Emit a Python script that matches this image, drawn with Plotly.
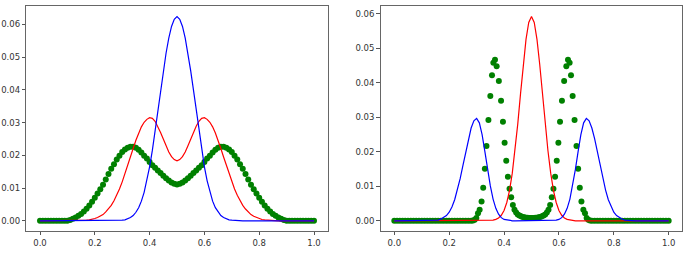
import plotly.graph_objects as go

# shared x grid for line series (0.00 .. 1.00 step 0.01)
x_grid = [i / 100 for i in range(101)]

# ---- left panel ----
blue_left = [0]*0 + [
    0, 0, 0, 0, 0, 0, 0, 0, 0, 0, 0, 0, 0, 0, 0, 0, 0, 0, 0, 0, 0, 0, 0, 0, 0, 0, 0, 0, 0,
    0.0001, 0.0002, 0.0003, 0.0006, 0.0010, 0.0016, 0.0026, 0.0040, 0.0060, 0.0087, 0.0122,
    0.0165, 0.0215, 0.0274, 0.0338, 0.0400, 0.0458, 0.0512, 0.0558, 0.0594, 0.0616,
    0.0624,
    0.0616, 0.0594, 0.0558, 0.0512, 0.0458, 0.0400, 0.0338, 0.0274, 0.0215, 0.0165,
    0.0122, 0.0087, 0.0060, 0.0040, 0.0026, 0.0016, 0.0010, 0.0006, 0.0003, 0.0002, 0.0001,
    0, 0, 0, 0, 0, 0, 0, 0, 0, 0, 0, 0, 0, 0, 0, 0, 0, 0, 0, 0, 0, 0, 0, 0, 0, 0, 0, 0, 0,
]

red_left = [
    0, 0, 0, 0, 0, 0, 0, 0, 0, 0, 0, 0, 0, 0, 0,
    0.0001, 0.0001, 0.0002, 0.0003, 0.0004, 0.0007, 0.0010, 0.0014, 0.0019, 0.0027,
    0.0036, 0.0047, 0.0061, 0.0078, 0.0097, 0.0119, 0.0143, 0.0169, 0.0195, 0.0221,
    0.0246, 0.0268, 0.0287, 0.0301, 0.0310, 0.0315, 0.0313, 0.0304, 0.0289, 0.0270,
    0.0250, 0.0229, 0.0210, 0.0196, 0.0187,
    0.0183,
    0.0187, 0.0196, 0.0210, 0.0229, 0.0250, 0.0270, 0.0289, 0.0304, 0.0313, 0.0315,
    0.0310, 0.0301, 0.0287, 0.0268, 0.0246, 0.0221, 0.0195, 0.0169, 0.0143, 0.0119,
    0.0097, 0.0078, 0.0061, 0.0047, 0.0036, 0.0027, 0.0019, 0.0014, 0.0010, 0.0007,
    0.0004, 0.0003, 0.0002, 0.0001, 0.0001,
    0, 0, 0, 0, 0, 0, 0, 0, 0, 0, 0, 0, 0, 0, 0,
]

green_left = [
    0, 0, 0, 0, 0, 0, 0, 0, 0, 0, 0,
    0.0002, 0.0006, 0.0010, 0.0015, 0.0021, 0.0028, 0.0037, 0.0047, 0.0058, 0.0070,
    0.0083, 0.0096, 0.0110, 0.0126, 0.0143, 0.0159, 0.0173, 0.0187, 0.0199, 0.0210,
    0.0218, 0.0223, 0.0226, 0.0226, 0.0223, 0.0217, 0.0209, 0.0199, 0.0190, 0.0180,
    0.0170, 0.0162, 0.0154, 0.0146, 0.0138, 0.0130, 0.0123, 0.0117, 0.0113,
    0.0111,
    0.0113, 0.0117, 0.0123, 0.0130, 0.0138, 0.0146, 0.0154, 0.0162, 0.0170,
    0.0180, 0.0190, 0.0199, 0.0209, 0.0217, 0.0223, 0.0226, 0.0226, 0.0223, 0.0218,
    0.0210, 0.0199, 0.0187, 0.0173, 0.0159, 0.0143, 0.0126, 0.0110, 0.0096, 0.0083,
    0.0070, 0.0058, 0.0047, 0.0037, 0.0028, 0.0021, 0.0015, 0.0010, 0.0006, 0.0002,
    0, 0, 0, 0, 0, 0, 0, 0, 0, 0, 0,
]

# ---- right panel ----
red_right = [
    0, 0, 0, 0, 0, 0, 0, 0, 0, 0, 0, 0, 0, 0, 0, 0, 0, 0, 0, 0, 0, 0, 0, 0, 0, 0, 0, 0, 0, 0, 0, 0, 0, 0, 0,
    0.0001, 0.0002, 0.0004, 0.0008, 0.0016, 0.0030, 0.0053, 0.0088, 0.0138, 0.0203,
    0.0281, 0.0368, 0.0453, 0.0526, 0.0575,
    0.0592,
    0.0575, 0.0526, 0.0453, 0.0368, 0.0281, 0.0203, 0.0138, 0.0088, 0.0053, 0.0030,
    0.0016, 0.0008, 0.0004, 0.0002, 0.0001,
    0, 0, 0, 0, 0, 0, 0, 0, 0, 0, 0, 0, 0, 0, 0, 0, 0, 0, 0, 0, 0, 0, 0, 0, 0, 0, 0, 0, 0, 0, 0, 0, 0, 0, 0,
]

blue_right = [
    0, 0, 0, 0, 0, 0, 0, 0, 0, 0, 0, 0, 0, 0,
    0.0001, 0.0001, 0.0002, 0.0005, 0.0009, 0.0015, 0.0025, 0.0040, 0.0061, 0.0089,
    0.0122, 0.0160, 0.0200, 0.0238, 0.0269, 0.0290, 0.0297, 0.0284, 0.0250, 0.0201,
    0.0149, 0.0101, 0.0063, 0.0036, 0.0019, 0.0009, 0.0004, 0.0002, 0.0001,
    0, 0, 0, 0, 0, 0, 0, 0, 0, 0, 0, 0, 0, 0, 0,
    0.0001, 0.0002, 0.0004, 0.0009, 0.0019, 0.0036, 0.0063, 0.0101, 0.0149, 0.0201,
    0.0250, 0.0284, 0.0297, 0.0290, 0.0269, 0.0238, 0.0200, 0.0160, 0.0122, 0.0089,
    0.0061, 0.0040, 0.0025, 0.0015, 0.0009, 0.0005, 0.0002, 0.0001, 0.0001,
    0, 0, 0, 0, 0, 0, 0, 0, 0, 0, 0, 0, 0, 0,
]

green_right_x = [
    0.00, 0.01, 0.02, 0.03, 0.04, 0.05, 0.06, 0.07, 0.08, 0.09, 0.10, 0.11, 0.12, 0.13, 0.14,
    0.15, 0.16, 0.17, 0.18, 0.19, 0.20, 0.21, 0.22, 0.23, 0.24, 0.25, 0.26, 0.27, 0.28,
    0.287, 0.293, 0.299, 0.305, 0.311, 0.318, 0.324, 0.330, 0.336, 0.343, 0.350, 0.356,
    0.361, 0.367, 0.373, 0.381, 0.389, 0.396, 0.402, 0.408, 0.414, 0.420, 0.426, 0.432,
    0.438, 0.444, 0.450, 0.456, 0.462, 0.468, 0.474, 0.480, 0.486, 0.492, 0.498,
    0.502, 0.508, 0.514, 0.520, 0.526, 0.532, 0.538, 0.544, 0.550, 0.556, 0.562, 0.568,
    0.574, 0.580, 0.586, 0.592, 0.598, 0.604, 0.611, 0.619, 0.627, 0.633, 0.639, 0.644,
    0.650, 0.657, 0.664, 0.670, 0.676, 0.682, 0.689, 0.695, 0.701, 0.707, 0.713,
    0.72, 0.73, 0.74, 0.75, 0.76, 0.77, 0.78, 0.79, 0.80, 0.81, 0.82, 0.83, 0.84, 0.85,
    0.86, 0.87, 0.88, 0.89, 0.90, 0.91, 0.92, 0.93, 0.94, 0.95, 0.96, 0.97, 0.98, 0.99, 1.00,
]
green_right_y = [
    0, 0, 0, 0, 0, 0, 0, 0, 0, 0, 0, 0, 0, 0, 0,
    0, 0, 0, 0, 0, 0, 0, 0, 0, 0, 0, 0, 0, 0,
    0.0001, 0.0003, 0.0008, 0.0022, 0.0032, 0.0056, 0.0096, 0.0151, 0.0217, 0.0292, 0.0362, 0.0422,
    0.0458, 0.0467, 0.0448, 0.0405, 0.0348, 0.0287, 0.0226, 0.0174, 0.0128, 0.0093, 0.0068, 0.0046,
    0.0032, 0.0024, 0.0018, 0.0015, 0.0013, 0.0011, 0.0010, 0.0009, 0.0009, 0.0008, 0.0008,
    0.0008, 0.0008, 0.0009, 0.0009, 0.0010, 0.0011, 0.0013, 0.0015, 0.0018, 0.0024, 0.0032, 0.0046,
    0.0068, 0.0093, 0.0128, 0.0174, 0.0226, 0.0287, 0.0348, 0.0405, 0.0448, 0.0467, 0.0458, 0.0422,
    0.0362, 0.0292, 0.0217, 0.0151, 0.0096, 0.0056, 0.0032, 0.0022, 0.0008, 0.0003, 0.0001,
    0, 0, 0, 0, 0, 0, 0, 0, 0, 0, 0, 0, 0, 0,
    0, 0, 0, 0, 0, 0, 0, 0, 0, 0, 0, 0, 0, 0, 0,
]

x_ticks = [0.0, 0.2, 0.4, 0.6, 0.8, 1.0]
y_ticks = [0.00, 0.01, 0.02, 0.03, 0.04, 0.05, 0.06]

GREEN = "#008000"
RED = "#ff0000"
BLUE = "#0000ff"

fig = go.Figure()

# left panel
fig.add_trace(go.Scatter(x=x_grid, y=green_left, mode="markers",
                         marker=dict(color=GREEN, size=6, line=dict(width=0)),
                         xaxis="x", yaxis="y"))
fig.add_trace(go.Scatter(x=x_grid, y=red_left, mode="lines",
                         line=dict(color=RED, width=1.2), xaxis="x", yaxis="y"))
fig.add_trace(go.Scatter(x=x_grid, y=blue_left, mode="lines",
                         line=dict(color=BLUE, width=1.2), xaxis="x", yaxis="y"))

# right panel
fig.add_trace(go.Scatter(x=green_right_x, y=green_right_y, mode="markers",
                         marker=dict(color=GREEN, size=6, line=dict(width=0)),
                         xaxis="x2", yaxis="y2"))
fig.add_trace(go.Scatter(x=x_grid, y=red_right, mode="lines",
                         line=dict(color=RED, width=1.2), xaxis="x2", yaxis="y2"))
fig.add_trace(go.Scatter(x=x_grid, y=blue_right, mode="lines",
                         line=dict(color=BLUE, width=1.2), xaxis="x2", yaxis="y2"))

axis_common = dict(
    showline=True, mirror=True, linecolor="#666666", linewidth=1,
    showgrid=False, zeroline=False,
    ticks="outside", ticklen=3.5, tickwidth=1, tickcolor="#555555",
    tickfont=dict(family="DejaVu Sans", size=8.5, color="#333333"),
)

ydom = [0.0906, 0.9748]
fig.update_layout(
    width=685, height=254,
    margin=dict(l=0, r=0, t=0, b=0),
    paper_bgcolor="white", plot_bgcolor="white",
    showlegend=False,
    xaxis=dict(domain=[0.0384, 0.4784], range=[-0.05, 1.05], anchor="y",
               tickvals=x_ticks, tickformat=".1f", **axis_common),
    yaxis=dict(domain=ydom, range=[-0.00312, 0.06552], anchor="x",
               tickvals=y_ticks, tickformat=".2f", **axis_common),
    xaxis2=dict(domain=[0.5556, 0.9962], range=[-0.05, 1.05], anchor="y2",
                tickvals=x_ticks, tickformat=".1f", **axis_common),
    yaxis2=dict(domain=ydom, range=[-0.00296, 0.06216], anchor="x2",
                tickvals=y_ticks, tickformat=".2f", **axis_common),
)

fig.write_html("out.html")
